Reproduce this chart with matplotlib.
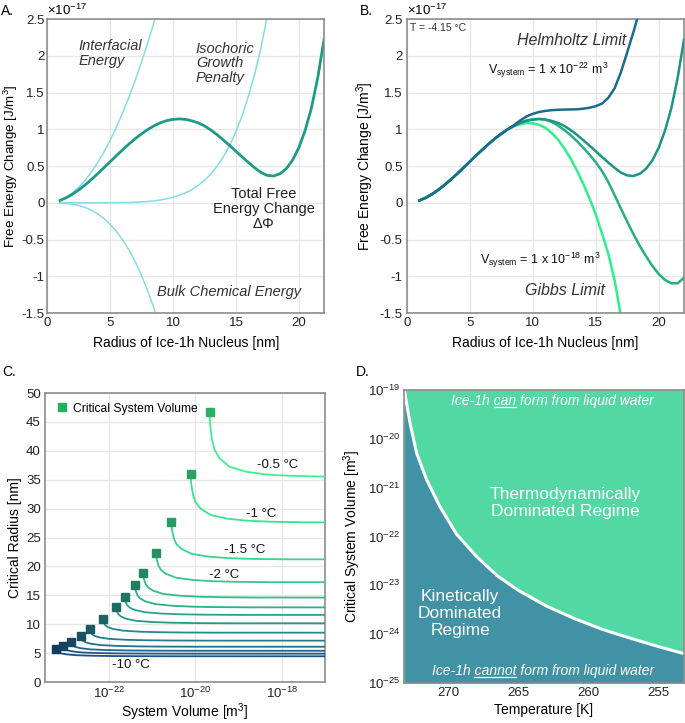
import numpy as np
import matplotlib
matplotlib.use('Agg')
import matplotlib.pyplot as plt
from matplotlib.colors import LinearSegmentedColormap, to_rgb
from matplotlib.lines import Line2D

plt.rcParams['font.family'] = ['Liberation Sans', 'DejaVu Sans']
plt.rcParams['axes.unicode_minus'] = False
plt.rcParams['mathtext.fontset'] = 'custom'
plt.rcParams['mathtext.rm'] = 'Liberation Sans'
plt.rcParams['mathtext.it'] = 'Liberation Sans:italic'
plt.rcParams['mathtext.bf'] = 'Liberation Sans:bold'

# ---- panel A: energy terms vs radius (units of 1e-17 J/m3) ----
r_total = np.arange(1, 22.5, 0.5)
total = [0.032, 0.069, 0.118, 0.177, 0.244, 0.318, 0.396, 0.478, 0.561, 0.644,
         0.724, 0.802, 0.875, 0.94, 0.999, 1.049, 1.089, 1.119, 1.135, 1.141,
         1.134, 1.114, 1.087, 1.045, 0.99, 0.925, 0.852, 0.778, 0.70, 0.622,
         0.546, 0.474, 0.41, 0.372, 0.365, 0.395, 0.465, 0.58, 0.75, 0.985,
         1.29, 1.70, 2.22]
r_short = np.arange(1, 9.5, 0.5)
interfacial = [0.034, 0.077, 0.137, 0.214, 0.308, 0.419, 0.547, 0.693, 0.855,
               1.035, 1.231, 1.445, 1.676, 1.924, 2.189, 2.471, 2.77]
bulk = [-0.002, -0.008, -0.019, -0.037, -0.064, -0.101, -0.151, -0.215, -0.295,
        -0.393, -0.51, -0.648, -0.809, -0.996, -1.208, -1.449, -1.72]
r_iso = np.arange(1, 18.5, 0.5)
isochoric = [0, 0, 0, 0, 0, 0, 0, 0, 0.001, 0.002, 0.003, 0.005, 0.008, 0.012,
             0.018, 0.027, 0.039, 0.055, 0.075, 0.102, 0.137, 0.18, 0.24, 0.305,
             0.39, 0.50, 0.63, 0.78, 0.97, 1.19, 1.46, 1.76, 2.12, 2.55, 3.05]

# ---- panel B: total free energy for several system volumes ----
r_common = np.arange(1, 8.5, 0.5)
y_common = total[:15]
r_helm = np.arange(8.5, 19.0, 0.5)
helmholtz = [1.055, 1.12, 1.175, 1.21, 1.235, 1.25, 1.26, 1.265, 1.268, 1.27,
             1.272, 1.28, 1.293, 1.315, 1.35, 1.43, 1.56, 1.78, 2.05, 2.33, 2.63]
r_big = np.arange(8.5, 22.5, 0.5)
vol_1e18 = [1.045, 1.085, 1.115, 1.13, 1.14, 1.13, 1.10, 1.05, 0.99, 0.92,
            0.84, 0.75, 0.655, 0.55, 0.43, 0.28, 0.10, -0.08, -0.26, -0.43,
            -0.59, -0.73, -0.86, -0.97, -1.05, -1.095, -1.095, -1.02]
r_gibbs = np.arange(8.5, 18.0, 0.5)
gibbs = [1.04, 1.07, 1.085, 1.08, 1.06, 1.02, 0.95, 0.86, 0.74, 0.60, 0.44,
         0.26, 0.06, -0.16, -0.42, -0.70, -1.06, -1.55, -2.1]

# ---- panel C: critical radius vs system volume ----
crit_vol = [2.14e-20, 7.8e-21, 2.8e-21, 1.23e-21, 6.2e-22, 4.0e-22, 2.3e-22,
            1.45e-22, 7.2e-23, 3.6e-23, 2.2e-23, 1.3e-23, 8.7e-24, 6.0e-24]
crit_rad = [46.7, 36.0, 27.6, 22.4, 18.8, 16.7, 14.7, 13.0, 10.85, 9.1, 7.96,
            6.97, 6.23, 5.65]
asym_rad = [35.5, 27.6, 21.2, 17.25, 14.6, 12.9, 11.6, 10.15, 8.53, 7.15, 6.1,
            5.4, 4.9, 4.45]
# common curve shape (decades past marker, fraction of drop left)
prof_dx = [0, 0.004, 0.015, 0.054, 0.115, 0.23, 0.46, 0.85, 1.31, 1.85, 2.65, 8]
prof_f = [1, 0.88, 0.777, 0.57, 0.415, 0.285, 0.155, 0.078, 0.036, 0.016, 0.004, 0]
c_labels = ['-0.5 °C', '-1 °C', '-1.5 °C', '-2 °C', '-10 °C']
c_label_x = [8e-19, 3.4e-19, 1.4e-19, 4.6e-20, 3.2e-22]
c_label_y = [37.6, 29.0, 22.8, 18.6, 2.9]

# ---- panel D: critical system volume vs temperature ----
temp_k = [273.1, 272.72, 272.24, 271.53, 270.58, 269.4, 268.0, 266.5, 265.0,
          263.0, 261.0, 259.0, 257.0, 255.0, 253.15]
crit_sys_vol = [9e-20, 2.09e-20, 5.0e-21, 1.45e-21, 4.07e-22, 1.12e-22, 3.98e-23,
                1.58e-23, 7.94e-24, 3.8e-24, 2.1e-24, 1.26e-24, 8.3e-25,
                5.6e-25, 4.0e-25]

fig = plt.figure(figsize=(6.85, 7.23), dpi=100)
axA = fig.add_axes([0.0693, 0.567, 0.4037, 0.4067])
axB = fig.add_axes([0.594, 0.567, 0.4045, 0.4067])
axC = fig.add_axes([0.0657, 0.0567, 0.4088, 0.3997])
axD = fig.add_axes([0.5898, 0.0553, 0.4087, 0.4053])

def style(ax, grid=True):
    for s in ax.spines.values():
        s.set_color('#8c8c8c')
        s.set_linewidth(1.2)
    ax.tick_params(length=0, labelsize=9.5, pad=3, colors='#222222')
    if grid:
        ax.grid(True, color='#e6e6e6', lw=0.9)
    ax.set_axisbelow(True)

light = '#86dbe8'
teal = '#1c9c85'

# A
style(axA)
axA.plot(r_short, interfacial, color=light, lw=1.1)
axA.plot(r_short, bulk, color=light, lw=1.1)
axA.plot(r_iso, isochoric, color=light, lw=1.1)
axA.plot(r_total, total, color=teal, lw=2.0)
axA.set_xlim(0, 22)
axA.set_ylim(-1.5, 2.5)
axA.set_xticks([0, 5, 10, 15, 20])
axA.set_yticks(np.arange(-1.5, 2.6, 0.5))
axA.yaxis.set_major_formatter(matplotlib.ticker.FormatStrFormatter('%g'))
axA.tick_params(axis='y', pad=2)
axA.set_xlabel('Radius of Ice-1h Nucleus [nm]', fontsize=10, labelpad=5)
axA.set_ylabel('Free Energy Change [J/m$^3$]', fontsize=9.6, labelpad=1)
axA.text(0.0, 1.004, r'$\times$10$^{-17}$', transform=axA.transAxes, fontsize=9.5,
         ha='left', va='bottom')
it = dict(fontsize=10.5, style='italic', color='#333333')
axA.text(2.5, 2.03, 'Interfacial\nEnergy', ha='left', va='center', linespacing=1.05, **it)
axA.text(11.8, 1.9, 'Isochoric\nGrowth\nPenalty', ha='left', va='center', linespacing=1.05, **it)
axA.text(8.7, -1.22, 'Bulk Chemical Energy', ha='left', va='center', **it)
axA.text(17.2, -0.08, 'Total Free\nEnergy Change\n' + r'Δ$\mathit{Φ}$', ha='center',
         va='center', fontsize=10.5, color='#222222', linespacing=1.1)

# B
style(axB)
helm_c = '#1b6b8e'
axB.plot(np.r_[r_common, r_helm], y_common + helmholtz, color=helm_c, lw=1.8, zorder=5)
axB.plot(r_total, total, color='#1e9486', lw=1.8, zorder=4)
axB.plot(np.r_[r_common, r_big], y_common + vol_1e18, color='#26b07f', lw=1.8, zorder=3)
axB.plot(np.r_[r_common, r_gibbs], y_common + gibbs, color='#2ef08a', lw=1.8, zorder=2)
axB.set_xlim(0, 22)
axB.set_ylim(-1.5, 2.5)
axB.set_xticks([0, 5, 10, 15, 20])
axB.set_yticks(np.arange(-1.5, 2.6, 0.5))
axB.yaxis.set_major_formatter(matplotlib.ticker.FormatStrFormatter('%g'))
axB.set_xlabel('Radius of Ice-1h Nucleus [nm]', fontsize=10, labelpad=5)
axB.set_ylabel('Free Energy Change [J/m$^3$]', fontsize=10, labelpad=3)
axB.text(0.0, 1.004, r'$\times$10$^{-17}$', transform=axB.transAxes, fontsize=9.5,
         ha='left', va='bottom')
axB.text(0.012, 0.985, 'T = -4.15 °C', transform=axB.transAxes, fontsize=7.5,
         ha='left', va='top', color='#333333')
axB.text(13.1, 2.21, 'Helmholtz Limit', ha='center', va='center', fontsize=11.5,
         style='italic', color='#333333')
axB.text(12.55, -1.19, 'Gibbs Limit', ha='center', va='center', fontsize=11.5,
         style='italic', color='#333333')
axB.text(11.2, 1.8, r'V$_{\mathregular{system}}$ = 1 x 10$^{\mathregular{-22}}$ m$^{\mathregular{3}}$',
         ha='center', va='center', fontsize=9, color='#111111')
axB.text(10.56, -0.78, r'V$_{\mathregular{system}}$ = 1 x 10$^{\mathregular{-18}}$ m$^{\mathregular{3}}$',
         ha='center', va='center', fontsize=9, color='#111111')

# C
style(axC)
cmap = LinearSegmentedColormap.from_list('ice', ['#1f4f82', '#24808c', '#2fb888', '#3ef08e'])
n = len(crit_vol)
for i in range(n):
    col = cmap(1 - i / (n - 1))
    xs = [crit_vol[i] * 10 ** d for d in prof_dx]
    ys = [asym_rad[i] + (crit_rad[i] - asym_rad[i]) * f for f in prof_f]
    axC.plot(xs, ys, color=col, lw=1.3, zorder=3)
    mc = tuple(0.72 * c for c in to_rgb(col))
    axC.plot(crit_vol[i], crit_rad[i], 's', color=mc, ms=5.5, zorder=4)
axC.set_xscale('log')
axC.set_xlim(10 ** -23.48, 1e-17)
axC.set_ylim(0, 50)
axC.set_xticks([1e-22, 1e-20, 1e-18])
axC.set_xticklabels(['$10^{-22}$', '$10^{-20}$', '$10^{-18}$'])
axC.xaxis.set_minor_locator(matplotlib.ticker.NullLocator())
axC.set_yticks(range(0, 51, 5))
axC.set_xlabel('System Volume [m$^3$]', fontsize=10, labelpad=0)
axC.set_ylabel('Critical Radius [nm]', fontsize=10, labelpad=3)
for lab, lx, ly in zip(c_labels, c_label_x, c_label_y):
    axC.text(lx, ly, lab, ha='center', va='center', fontsize=9.5, color='#111111')
h = Line2D([], [], marker='s', ls='none', color='#1fb15f', ms=5.5)
axC.legend([h], ['Critical System Volume'], loc='upper left', frameon=False,
           fontsize=8.7, handletextpad=0.3, borderaxespad=0.4, handlelength=1.2)

# D
style(axD, grid=False)
dark = '#4292a6'
green = '#52d9a3'
axD.set_facecolor(green)
axD.fill_between(temp_k, 1e-25, crit_sys_vol, color=dark, lw=0)
axD.plot(temp_k, crit_sys_vol, color='white', lw=2.2)
axD.set_yscale('log')
axD.set_xlim(273.15, 253.15)
axD.set_ylim(1e-25, 1e-19)
axD.set_xticks([270, 265, 260, 255])
axD.set_yticks([1e-19, 1e-20, 1e-21, 1e-22, 1e-23, 1e-24, 1e-25])
axD.set_yticklabels(['$10^{-%d}$' % k for k in [19, 20, 21, 22, 23, 24, 25]])
axD.yaxis.set_minor_locator(matplotlib.ticker.NullLocator())
axD.set_xlabel('Temperature [K]', fontsize=10, labelpad=3)
axD.set_ylabel('Critical System Volume [m$^3$]', fontsize=10, labelpad=3)
axD.text(0.575, 0.615, 'Thermodynamically\nDominated Regime', transform=axD.transAxes,
         ha='center', va='center', fontsize=12.5, color='white', linespacing=1.15)
axD.text(0.2, 0.238, 'Kinetically\nDominated\nRegime', transform=axD.transAxes,
         ha='center', va='center', fontsize=12.5, color='white', linespacing=1.15)

renderer = fig.canvas.get_renderer()

def underlined(ax, xc, yc, pre, word, post, **kw):
    t = ax.text(xc, yc, pre + word + post, transform=ax.transAxes, ha='center',
                va='center', **kw)
    def width(s):
        tt = ax.text(0, 0, s, transform=ax.transAxes, **kw)
        w = tt.get_window_extent(renderer).width
        tt.remove()
        return w
    bb = t.get_window_extent(renderer)
    x_end = bb.x0 + width(pre + word)
    x_start = x_end - width(word)
    inv = ax.transAxes.inverted()
    p0 = inv.transform((x_start, bb.y0 + 1.5))
    p1 = inv.transform((x_end, bb.y0 + 1.5))
    ax.add_line(Line2D([p0[0], p1[0]], [p0[1], p1[1]], transform=ax.transAxes,
                       color=kw.get('color', 'white'), lw=0.9))

underlined(axD, 0.53, 0.962, 'Ice-1h ', 'can', ' form from liquid water',
           fontsize=10, style='italic', color='white')
underlined(axD, 0.495, 0.04, 'Ice-1h ', 'cannot', ' form from liquid water',
           fontsize=10, style='italic', color='white')

fig.text(0.002, 0.985, 'A.', fontsize=10, va='center')
fig.text(0.526, 0.985, 'B.', fontsize=10, va='center')
fig.text(0.004, 0.485, 'C.', fontsize=10, va='center')
fig.text(0.52, 0.485, 'D.', fontsize=10, va='center')

fig.savefig('out.png', dpi=100)
